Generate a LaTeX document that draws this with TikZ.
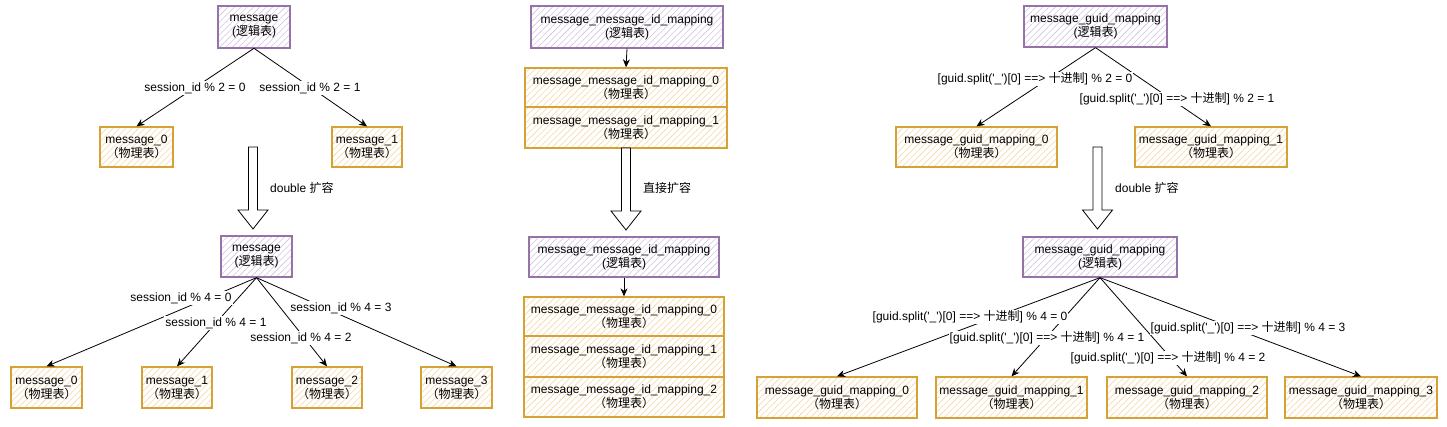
\documentclass[tikz,border=0pt]{standalone}
\usepackage{fontspec}
\setmainfont{Liberation Sans}
\newfontfamily\cjk{Noto Sans CJK SC}
\usetikzlibrary{patterns.meta,arrows.meta}
\definecolor{logstroke}{HTML}{9673A6}
\definecolor{loghatch}{HTML}{D3C3E0}
\definecolor{phystroke}{HTML}{D6A235}
\definecolor{phyhatch}{HTML}{F9D7A6}
\newcommand\sq{\XeTeXglyph\XeTeXcharglyph"27\relax}
\newcommand\logtab{({\cjk 逻辑表})}
\newcommand\phytab{{\cjk （物理表）}}
\newcommand\gs[1]{[guid.split(\sq\_\sq)[0] ==> {\cjk 十进制}] \% #1}
\tikzset{
  wh/.style 2 args={minimum width=#1pt, minimum height=#2pt},
  box/.style={draw, line width=1.3pt, align=center, inner sep=0pt,
    font=\fontsize{12}{14}\selectfont, text=black},
  logical/.style={box, draw=logstroke,
    pattern={Lines[angle=45,distance=4.5pt,line width=0.6pt]}, pattern color=loghatch},
  physical/.style={box, draw=phystroke,
    pattern={Lines[angle=45,distance=4.5pt,line width=0.6pt]}, pattern color=phyhatch},
  conn/.style={draw=black, line width=0.8pt, -{Stealth[length=8pt,width=7pt,inset=2.5pt]}},
  lbl/.style={fill=white, inner sep=1pt, font=\fontsize{12}{14}\selectfont},
  note/.style={anchor=west, inner sep=0pt, font=\fontsize{12}{14}\selectfont},
  hollow/.pic={\draw[line width=0.8pt, fill=white] (-4.5,0) -- (-4.5,63) -- (-15,63)
     -- (0,82) -- (15,63) -- (4.5,63) -- (4.5,0) -- cycle;}
}
\begin{document}
\begin{tikzpicture}[x=1pt,y=-1pt]
\useasboundingbox[fill=white] (0,0) rectangle (1447,426);

% ---------------- left ----------------
\node[logical, wh={72}{42}] (L1) at (254,27) {message\\\logtab};
\node[physical, wh={73}{40}] (L1a) at (136.5,147) {message\_0\\\phytab};
\node[physical, wh={70}{40}] (L1b) at (367,147) {message\_1\\\phytab};
\draw[conn] (L1.south) -- (L1a.north);
\draw[conn] (L1.south) -- (L1b.north);
\node[lbl] (l1la) at (195,88) {session\_id \% 2 = 0};
\node[lbl] (l1lb) at (310,88) {session\_id \% 2 = 1};
\pic at (253,147) {hollow};
\node[note] (lnote) at (270,188) {double {\cjk 扩容}};

\node[logical, wh={71}{41}] (L2) at (256.5,256.5) {message\\\logtab};
\node[physical, wh={71}{41}] (L2a) at (46.5,387.5) {message\_0\\\phytab};
\node[physical, wh={70}{41}] (L2b) at (177,387.5) {message\_1\\\phytab};
\node[physical, wh={70}{41}] (L2c) at (327,387.5) {message\_2\\\phytab};
\node[physical, wh={71}{41}] (L2d) at (456.5,387.5) {message\_3\\\phytab};
\draw[conn] (L2.south) -- (L2a.north);
\draw[conn] (L2.south) -- (L2b.north);
\draw[conn] (L2.south) -- (L2c.north);
\draw[conn] (L2.south) -- (L2d.north);
\node[lbl] (l2la) at (181,298) {session\_id \% 4 = 0};
\node[lbl] (l2lb) at (216,323) {session\_id \% 4 = 1};
\node[lbl] (l2lc) at (301,338) {session\_id \% 4 = 2};
\node[lbl] (l2ld) at (341,308) {session\_id \% 4 = 3};

% ---------------- middle ----------------
\node[logical, wh={192}{42}] (M1) at (627,27) {message\_message\_id\_mapping\\\logtab};
\node[physical, wh={202}{39}] (M1a) at (626,87.5) {message\_message\_id\_mapping\_0\\\phytab};
\node[physical, wh={202}{41}] (M1b) at (626,127.5) {message\_message\_id\_mapping\_1\\\phytab};
\draw[conn] (M1.south) -- (M1a.north);
\pic at (626,148) {hollow};
\node[note] (mnote) at (643,188) {\cjk 直接扩容};

\node[logical, wh={190}{40}] (M2) at (624,257) {message\_message\_id\_mapping\\\logtab};
\node[physical, wh={200}{39}] (M2a) at (624,316.5) {message\_message\_id\_mapping\_0\\\phytab};
\node[physical, wh={200}{41}] (M2b) at (624,356.5) {message\_message\_id\_mapping\_1\\\phytab};
\node[physical, wh={200}{40}] (M2c) at (624,397) {message\_message\_id\_mapping\_2\\\phytab};
\draw[conn] (M2.south) -- (M2a.north);

% ---------------- right ----------------
\node[logical, wh={143}{41}] (R1) at (1095.5,26.5) {message\_guid\_mapping\\\logtab};
\node[physical, wh={161}{40}] (R1a) at (976.5,147) {message\_guid\_mapping\_0\\\phytab};
\node[physical, wh={152}{40}] (R1b) at (1211,147) {message\_guid\_mapping\_1\\\phytab};
\draw[conn] (R1.south) -- (R1a.north);
\draw[conn] (R1.south) -- (R1b.north);
\node[lbl] (r1la) at (1035,79) {\gs{2 = 0}};
\node[lbl] (r1lb) at (1177,99) {\gs{2 = 1}};
\pic at (1097.5,147) {hollow};
\node[note] (rnote) at (1115,188) {double {\cjk 扩容}};

\node[logical, wh={154}{40}] (R2) at (1100,257) {message\_guid\_mapping\\\logtab};
\node[physical, wh={160}{41}] (R2a) at (837,397.5) {message\_guid\_mapping\_0\\\phytab};
\node[physical, wh={151}{41}] (R2b) at (1011.5,397.5) {message\_guid\_mapping\_1\\\phytab};
\node[physical, wh={160}{41}] (R2c) at (1187,397.5) {message\_guid\_mapping\_2\\\phytab};
\node[physical, wh={152}{41}] (R2d) at (1361,397.5) {message\_guid\_mapping\_3\\\phytab};
\draw[conn] (R2.south) -- (R2a.north);
\draw[conn] (R2.south) -- (R2b.north);
\draw[conn] (R2.south) -- (R2c.north);
\draw[conn] (R2.south) -- (R2d.north);
\node[lbl] (r2la) at (970,317) {\gs{4 = 0}};
\node[lbl] (r2lb) at (1047,338) {\gs{4 = 1}};
\node[lbl] (r2lc) at (1168,358) {\gs{4 = 2}};
\node[lbl] (r2ld) at (1248,328) {\gs{4 = 3}};
\end{tikzpicture}
\end{document}
